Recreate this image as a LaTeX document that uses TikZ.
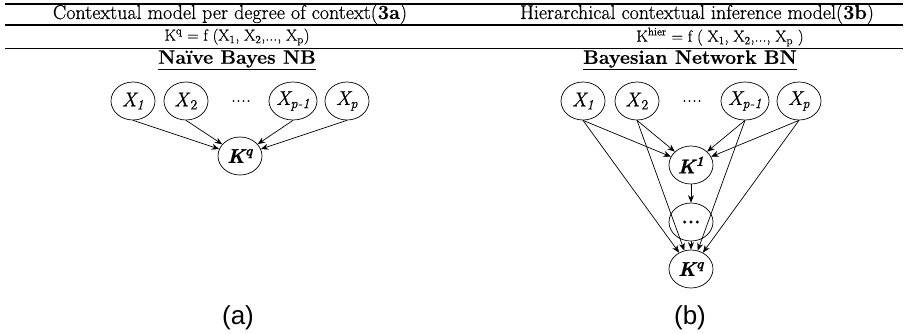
\documentclass[tikz,border=0pt]{standalone}
\usepackage{fontspec}
\setmainfont{Latin Modern Roman}[FakeBold=0.5]
\newfontfamily\capfont{Liberation Sans}
\usetikzlibrary{shapes.geometric,arrows.meta}
\begin{document}
\begin{tikzpicture}[x=1pt,y=-1pt,
  headtext/.style={inner sep=0pt,font=\fontsize{20}{22}\selectfont},
  formtext/.style={inner sep=0pt,font=\fontsize{16}{18}\selectfont},
  titletext/.style={inner sep=0pt,font=\fontsize{19.5}{22}\selectfont\bfseries},
  var/.style={draw,ellipse,line width=0.7pt,minimum width=44pt,minimum height=38pt,
    inner sep=0pt,font=\fontsize{20}{22}\selectfont},
  dotstext/.style={inner sep=0pt,font=\fontsize{20}{22}\selectfont},
  edge/.style={line width=0.7pt,-{Stealth[length=7.5pt,width=6pt]}},
  sublabel/.style={inner sep=0pt,font=\capfont\fontsize{26}{28}\selectfont},
  thickrule/.style={line width=2.2pt},
  thinrule/.style={line width=0.9pt}]
\useasboundingbox (0,0) rectangle (906,333);

% table rules
\coordinate (r1l) at (5,4);   \coordinate (r1r) at (903,4);
\coordinate (r2l) at (5,25);  \coordinate (r2r) at (903,25);
\coordinate (r3l) at (5,48);  \coordinate (r3r) at (903,48);
\draw[thickrule] (r1l) -- (r1r);
\draw[thickrule] (r2l) -- (r2r);
\draw[thinrule] (r3l) -- (r3r);

% column headings and formulas
\node[headtext] (h1) at (230,14) {Contextual model per degree of context(\textbf{3a})};
\node[headtext] (h2) at (697,14) {Hierarchical contextual inference model(\textbf{3b})};
\node[formtext] (f1) at (237,37) {K\textsuperscript{q} = f (X\textsubscript{1}, X\textsubscript{2},..., X\textsubscript{p})};
\node[formtext] (f2) at (720,37) {K\textsuperscript{hier} = f ( X\textsubscript{1}, X\textsubscript{2},..., X\textsubscript{p} )};

% model titles
\node[titletext] (t1) at (237,60) {\underline{Naïve Bayes NB}};
\node[titletext] (t2) at (690,60) {\underline{Bayesian Network BN}};

% naive Bayes
\node[var] (a1) at (133,101) {\textit{X\textsubscript{1}}};
\node[var] (a2) at (186,101) {\textit{X}\textsubscript{2}};
\node[dotstext] (ad) at (241,101) {....};
\node[var] (a3) at (293,101) {\textit{X\textsubscript{p-1}}};
\node[var] (a4) at (347,101) {\textit{X\textsubscript{p}}};
\node[var] (aq) at (240,156) {\textbf{\textit{K\textsuperscript{q}}}};
\draw[edge] (a1.south) -- (aq);
\draw[edge] (a2.south) -- (aq);
\draw[edge] (a3.south) -- (aq);
\draw[edge] (a4.south) -- (aq);

% hierarchical Bayesian network
\node[var] (b1) at (583,101) {\textit{X\textsubscript{1}}};
\node[var] (b2) at (637,101) {\textit{X}\textsubscript{2}};
\node[dotstext] (bd) at (692,101) {....};
\node[var] (b3) at (745,101) {\textit{X\textsubscript{p-1}}};
\node[var] (b4) at (799,101) {\textit{X\textsubscript{p}}};
\node[var] (k1) at (691,165) {\textbf{\textit{K\textsuperscript{1}}}};
\node[var] (km) at (691,222) {\textbf{...}};
\node[var] (kq) at (691,269) {\textbf{\textit{K\textsuperscript{q}}}};
\foreach \s in {b1,b2,b3,b4} {
  \draw[edge] (\s.south) -- (k1);
  \draw[edge] (\s.south) -- (kq);
}
\draw[edge] (k1) -- (km);
\draw[edge] (km) -- (kq);

% panel labels
\node[sublabel] (la) at (238,318) {(a)};
\node[sublabel] (lb) at (690,318) {(b)};
\end{tikzpicture}
\end{document}
